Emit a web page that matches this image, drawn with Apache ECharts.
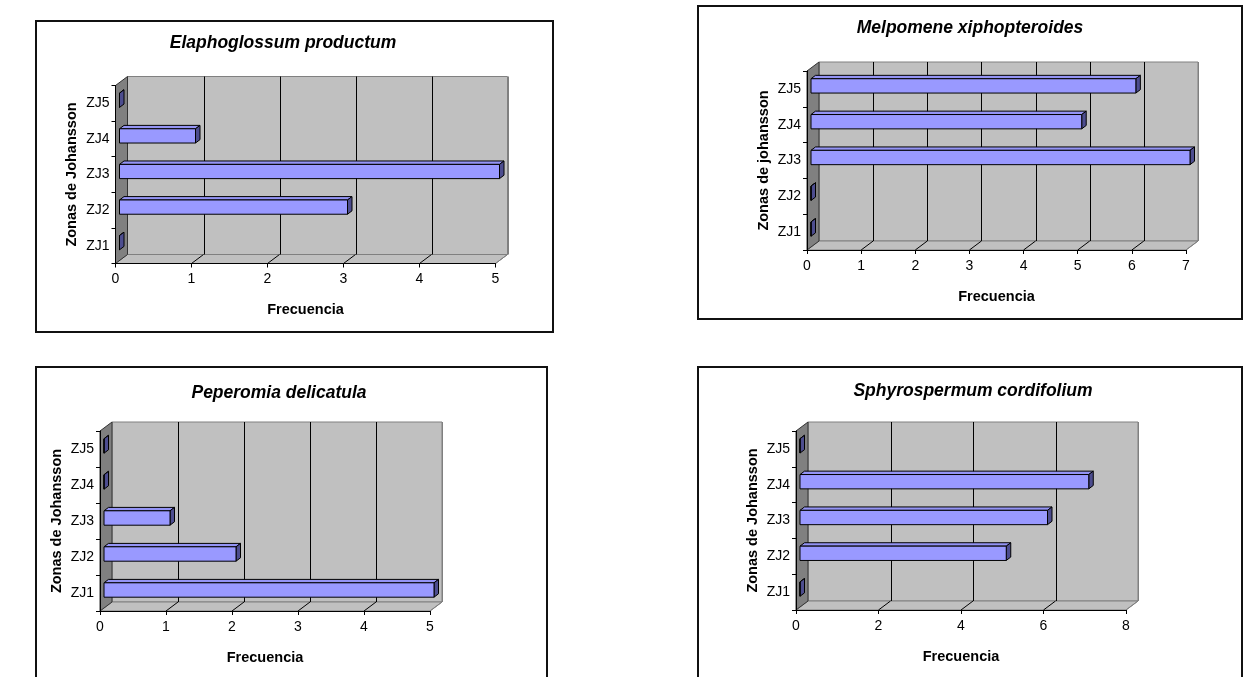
<!DOCTYPE html>
<html>
<head>
<meta charset="utf-8">
<script src="https://cdn.jsdelivr.net/npm/echarts@6/dist/echarts.min.js"></script>
<style>
  html, body { margin: 0; padding: 0; background: #ffffff; }
  #chart { width: 1243px; height: 677px; }
</style>
</head>
<body>
<div id="chart"></div>
<script>
// Frequency of each epiphyte species across the Johansson zones
const zones = ['ZJ1', 'ZJ2', 'ZJ3', 'ZJ4', 'ZJ5'];
const speciesNames = [
  'Elaphoglossum productum',
  'Melpomene xiphopteroides',
  'Peperomia delicatula',
  'Sphyrospermum cordifolium'
];
const elaphoglossumCounts = [0, 3, 5, 1, 0];
const melpomeneCounts     = [0, 0, 7, 5, 6];
const peperomiaCounts     = [5, 2, 1, 0, 0];
const sphyrospermumCounts = [0, 5, 6, 7, 0];
const speciesCounts = [elaphoglossumCounts, melpomeneCounts, peperomiaCounts, sphyrospermumCounts];

const frequencyMax  = [5, 7, 5, 8];
const frequencyStep = [1, 1, 1, 2];
const frequencyTitle = 'Frecuencia';
const zoneTitles = ['Zonas de Johansson', 'Zonas de johansson', 'Zonas de Johansson', 'Zonas de Johansson'];

// Page layout: outer frame, front plot plane and title anchor of each panel
const panels = [
  { frame: [36, 21, 517, 311],  plot: { left: 115.5, top: 85.5, width: 380, height: 178 }, title: [283, 43] },
  { frame: [698, 6, 544, 313],  plot: { left: 807,   top: 71,   width: 379, height: 179 }, title: [970, 28] },
  { frame: [36, 367, 511, 330], plot: { left: 100,   top: 431,  width: 330, height: 180 }, title: [279, 393] },
  { frame: [698, 367, 544, 330], plot: { left: 796,  top: 431,  width: 330, height: 179 }, title: [973, 391] }
];

const FONT = '"Liberation Sans", Arial, sans-serif';
const WALL_DX = 12, WALL_DY = 9;         // depth of the pseudo-3D walls
const BAR_SHIFT_X = 4, BAR_SHIFT_Y = 3;  // bar front face sits inside the depth
const BAR_DX = 4.5, BAR_DY = 3.4;        // bar thickness in depth
const BAR_RATIO = 0.4;                   // bar height relative to category band

const px = v => Math.round(v) + 0.5;

// Walls, floor and gridlines of the 3D box, placed through the axes
function makeWallRenderer(k) {
  return function (params, api) {
    const cs = params.coordSys;
    const yT = cs.y, yB = cs.y + cs.height;
    const xL = api.coord([0, 0])[0];
    const xR = api.coord([frequencyMax[k], 0])[0];
    const dx = WALL_DX, dy = WALL_DY;
    const children = [];
    children.push({
      type: 'polygon',
      shape: { points: [[xL + dx, yT - dy], [xR + dx, yT - dy], [xR + dx, yB - dy], [xL + dx, yB - dy]] },
      style: { fill: '#C0C0C0', stroke: '#808080', lineWidth: 1 }
    });
    children.push({
      type: 'polygon',
      shape: { points: [[xL, yB], [xR, yB], [xR + dx, yB - dy], [xL + dx, yB - dy]] },
      style: { fill: '#C0C0C0', stroke: '#808080', lineWidth: 1 }
    });
    for (let v = frequencyStep[k]; v <= frequencyMax[k] + 1e-9; v += frequencyStep[k]) {
      const x = api.coord([v, 0])[0];
      const last = Math.abs(v - frequencyMax[k]) < 1e-9;
      const col = last ? '#808080' : '#000000';
      children.push({
        type: 'line',
        shape: { x1: px(x + dx), y1: yT - dy, x2: px(x + dx), y2: yB - dy },
        style: { stroke: col, lineWidth: 1 }
      });
      children.push({
        type: 'line',
        shape: { x1: x, y1: yB, x2: x + dx, y2: yB - dy },
        style: { stroke: col, lineWidth: 1 }
      });
    }
    children.push({
      type: 'polygon',
      shape: { points: [[xL, yT], [xL + dx, yT - dy], [xL + dx, yB - dy], [xL, yB]] },
      style: { fill: '#808080', stroke: '#333333', lineWidth: 1 }
    });
    return { type: 'group', children: children };
  };
}

// One 3D bar: front face, top face and right side face
function renderBar(params, api) {
  const v = api.value(0), c = api.value(1);
  const p0 = api.coord([0, c]);
  const p1 = api.coord([v, c]);
  const h = api.size([0, 1])[1] * BAR_RATIO;
  const xs = p0[0] + BAR_SHIFT_X, xe = p1[0] + BAR_SHIFT_X;
  const yc = p0[1] - BAR_SHIFT_Y;
  const yt = yc - h / 2, yb = yc + h / 2;
  const edge = { stroke: '#000000', lineWidth: 1, lineJoin: 'miter' };
  return {
    type: 'group',
    children: [
      { type: 'polygon', shape: { points: [[xs, yt], [xe, yt], [xe + BAR_DX, yt - BAR_DY], [xs + BAR_DX, yt - BAR_DY]] },
        style: Object.assign({ fill: '#9494F5' }, edge) },
      { type: 'polygon', shape: { points: [[xe, yt], [xe + BAR_DX, yt - BAR_DY], [xe + BAR_DX, yb - BAR_DY], [xe, yb]] },
        style: Object.assign({ fill: '#4D4D8F' }, edge) },
      { type: 'rect', shape: { x: xs, y: yt, width: xe - xs, height: h },
        style: Object.assign({ fill: '#9999FF' }, edge) }
    ]
  };
}

const grids = [], xAxes = [], yAxes = [], series = [], titles = [], frames = [];

panels.forEach(function (p, k) {
  grids.push({ left: p.plot.left, top: p.plot.top, width: p.plot.width, height: p.plot.height, containLabel: false });
  xAxes.push({
    gridIndex: k, type: 'value', min: 0, max: frequencyMax[k], interval: frequencyStep[k], z: 5,
    axisLine: { show: true, lineStyle: { color: '#000000', width: 1 } },
    axisTick: { show: true, length: 4, lineStyle: { color: '#000000' } },
    axisLabel: { color: '#000000', fontFamily: FONT, fontSize: 14, margin: 9 },
    splitLine: { show: false },
    name: frequencyTitle, nameLocation: 'middle', nameGap: 39,
    nameTextStyle: { color: '#000000', fontFamily: FONT, fontSize: 14.5, fontWeight: 'bold' }
  });
  yAxes.push({
    gridIndex: k, type: 'category', data: zones, z: 5,
    axisLine: { show: true, lineStyle: { color: '#000000', width: 1 } },
    axisTick: { show: true, length: 4, lineStyle: { color: '#000000' } },
    axisLabel: { color: '#000000', fontFamily: FONT, fontSize: 14, margin: 6 },
    splitLine: { show: false },
    name: zoneTitles[k], nameLocation: 'middle', nameRotate: 90, nameGap: 36,
    nameTextStyle: { color: '#000000', fontFamily: FONT, fontSize: 14.5, fontWeight: 'bold' }
  });
  series.push({
    type: 'custom', coordinateSystem: 'cartesian2d', xAxisIndex: k, yAxisIndex: k,
    data: [[0, 0]], renderItem: makeWallRenderer(k), clip: false, silent: true, z: 1
  });
  series.push({
    type: 'custom', name: speciesNames[k], coordinateSystem: 'cartesian2d', xAxisIndex: k, yAxisIndex: k,
    data: speciesCounts[k].map(function (v, i) { return [v, i]; }),
    encode: { x: 0, y: 1 }, renderItem: renderBar, clip: false, z: 3
  });
  titles.push({
    text: speciesNames[k], left: p.title[0], top: p.title[1], padding: 0,
    textAlign: 'center', textVerticalAlign: 'middle',
    textStyle: { color: '#000000', fontFamily: FONT, fontSize: 17.5, fontWeight: 'bold', fontStyle: 'italic' }
  });
  frames.push({
    type: 'rect', silent: true, z: 100,
    shape: { x: p.frame[0], y: p.frame[1], width: p.frame[2], height: p.frame[3] },
    style: { fill: 'none', stroke: '#111111', lineWidth: 2 }
  });
});

const chart = echarts.init(document.getElementById('chart'), null, { renderer: 'canvas' });
chart.setOption({
  backgroundColor: '#ffffff',
  animation: false,
  title: titles,
  grid: grids,
  xAxis: xAxes,
  yAxis: yAxes,
  series: series,
  graphic: { elements: frames }
});
</script>
</body>
</html>
